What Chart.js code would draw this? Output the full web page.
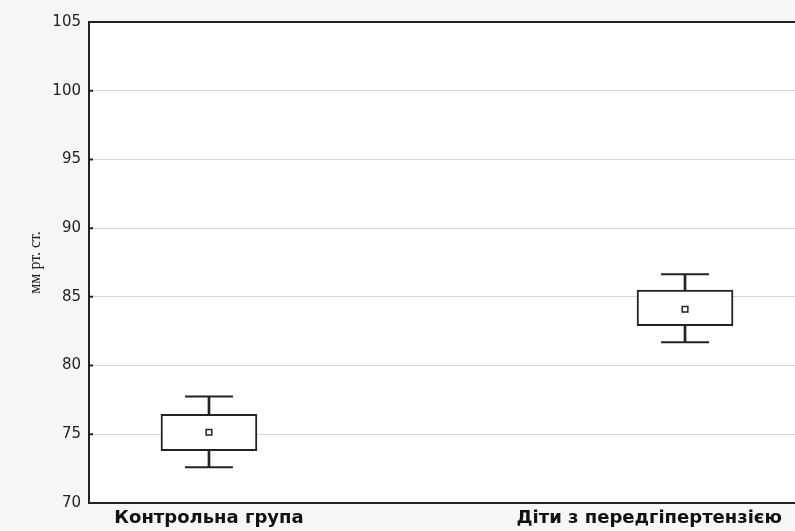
<!DOCTYPE html>
<html>
<head>
<meta charset="utf-8">
<script src="https://cdn.jsdelivr.net/npm/chart.js@4.4.0/dist/chart.umd.min.js"></script>
<style>
  html, body { margin: 0; padding: 0; background: #f6f6f6; }
  #wrap { width: 795px; height: 531px; position: relative; }
</style>
</head>
<body>
<div id="wrap"><canvas id="c" width="795" height="531"></canvas></div>
<script>
// groups and their positions on the x axis
const groups = ['Контрольна група', 'Діти з передгіпертензією'];
const groupX = [1, 2];
// mean, box (low/high), whiskers (low/high)
const means = [75.15, 84.1];
const boxLow = [73.8, 82.9];
const boxHigh = [76.45, 85.5];
const whiskLow = [72.6, 81.7];
const whiskHigh = [77.75, 86.65];
const yTicks = [70, 75, 80, 85, 90, 95, 100, 105];

const ink = '#222';

// top frame line + bold category labels under the axis
const framePlugin = {
    id: 'frame',
    beforeDraw(chart) {
        const a = chart.chartArea, ctx = chart.ctx;
        ctx.save();
        ctx.fillStyle = '#fff';
        ctx.fillRect(a.left, a.top, a.right - a.left, a.bottom - a.top);
        ctx.restore();
    },
    afterDraw(chart) {
        const a = chart.chartArea, ctx = chart.ctx, xs = chart.scales.x, ys = chart.scales.y;
        ctx.save();
        ctx.strokeStyle = ink;
        ctx.lineWidth = 2;
        ctx.beginPath();
        ctx.moveTo(a.left, a.top);
        ctx.lineTo(a.right, a.top);
        // small inner ticks on the value axis
        yTicks.forEach(v => {
            const y = ys.getPixelForValue(v);
            ctx.moveTo(a.left, y);
            ctx.lineTo(a.left + 4, y);
        });
        ctx.stroke();
        ctx.font = 'bold 18px "DejaVu Sans"';
        ctx.fillStyle = '#111';
        ctx.textBaseline = 'middle';
        ctx.textAlign = 'center';
        groups.forEach((g, i) => {
            const w = ctx.measureText(g).width;
            let cx = xs.getPixelForValue(groupX[i]);
            cx = Math.min(cx, chart.width - 13 - w / 2);
            ctx.fillText(g, cx, a.bottom + 15);
        });
        ctx.restore();
    }
};

new Chart(document.getElementById('c'), {
    type: 'bar',
    data: {
        datasets: [
            {
                label: 'whisker',
                data: groupX.map((x, i) => ({x: x, y: [whiskLow[i], whiskHigh[i]]})),
                backgroundColor: ink,
                borderWidth: 0,
                barThickness: 2,
                grouped: false,
                order: 3
            },
            {
                label: 'box',
                data: groupX.map((x, i) => ({x: x, y: [boxLow[i], boxHigh[i]]})),
                backgroundColor: '#fff',
                borderColor: ink,
                borderWidth: 2,
                borderSkipped: false,
                barThickness: 96,
                grouped: false,
                order: 2
            },
            {
                type: 'scatter',
                label: 'caps',
                data: groupX.flatMap((x, i) => [{x: x, y: whiskLow[i]}, {x: x, y: whiskHigh[i]}]),
                pointStyle: 'line',
                radius: 24,
                borderColor: ink,
                borderWidth: 2,
                order: 1
            },
            {
                type: 'scatter',
                label: 'mean',
                data: groupX.map((x, i) => ({x: x, y: means[i]})),
                pointStyle: 'rect',
                radius: 4,
                backgroundColor: '#fff',
                borderColor: ink,
                borderWidth: 1.5,
                order: 0
            }
        ]
    },
    options: {
        responsive: false,
        animation: false,
        layout: { autoPadding: false, padding: { left: 0, top: 22, right: 0, bottom: 0 } },
        plugins: { legend: { display: false }, tooltip: { enabled: false } },
        scales: {
            x: {
                type: 'linear',
                offset: false,
                min: 0.748,
                max: 2.231,
                grid: { display: false },
                border: { display: true, color: ink, width: 2 },
                ticks: { display: false },
                afterFit(s) { s.height = 28; }
            },
            y: {
                min: 70,
                max: 105,
                afterBuildTicks(s) { s.ticks = yTicks.map(v => ({value: v})); },
                grid: { color: '#d4d4d4', lineWidth: 1, drawTicks: false },
                border: { display: true, color: ink, width: 2 },
                ticks: {
                    padding: 8,
                    color: '#222',
                    font: { family: '"DejaVu Sans"', size: 15 }
                },
                title: {
                    display: true,
                    text: 'мм рт. ст.',
                    color: '#222',
                    font: { family: '"Liberation Serif", serif', size: 16 },
                    padding: { top: 26, bottom: 0 }
                },
                afterFit(s) { s.width = 89; }
            }
        }
    },
    plugins: [framePlugin]
});
</script>
</body>
</html>
